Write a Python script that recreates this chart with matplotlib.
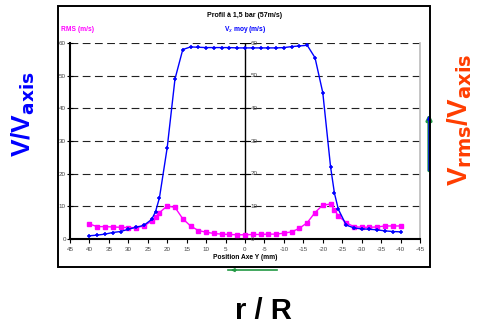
import numpy as np
import matplotlib.pyplot as plt
from matplotlib.patches import Rectangle

# position along Y (mm)
pos = [40, 38, 36, 34, 32, 30, 28, 26, 24, 23, 22, 20, 18, 16, 14, 12, 10, 8, 6, 4, 2, 0,
       -2, -4, -6, -8, -10, -12, -14, -16, -18, -20, -22, -23, -24, -26, -28, -30, -32,
       -34, -36, -38, -40]
v_moy = [1.0, 1.2, 1.5, 2.0, 2.3, 3.0, 3.6, 4.2, 6.0, 8.4, 12.6, 28.0, 49.0, 58.0, 58.8,
         58.7, 58.6, 58.6, 58.6, 58.6, 58.5, 58.5, 58.5, 58.5, 58.5, 58.5, 58.6, 58.9, 59.1,
         59.3, 55.5, 44.8, 22.1, 14.0, 9.1, 4.3, 3.4, 3.1, 3.0, 2.8, 2.5, 2.3, 2.2]
v_rms = [4.6, 3.8, 3.8, 3.7, 3.6, 3.5, 3.5, 4.0, 5.5, 6.6, 8.1, 10.1, 9.7, 6.2, 4.0, 2.6,
         2.1, 1.7, 1.5, 1.4, 1.3, 1.3, 1.4, 1.4, 1.5, 1.5, 1.8, 2.2, 3.3, 5.0, 8.1, 10.4,
         10.7, 8.9, 7.1, 5.0, 3.8, 3.6, 3.6, 3.7, 4.0, 4.0, 4.0]
xticks = list(range(45, -50, -5))
yticks = [0, 10, 20, 30, 40, 50, 60]

plt.rcParams['font.family'] = ['Liberation Sans', 'DejaVu Sans']

fig = plt.figure(figsize=(4.78, 3.27), dpi=100)
# outer frame
fig.patches.append(Rectangle((0.1213, 0.1835), 0.778, 0.798, transform=fig.transFigure,
                             fill=False, edgecolor='black', linewidth=1.4))

ax = fig.add_axes([0.1464, 0.269, 0.7323, 0.5995])
ax.set_xlim(45, -45)
ax.set_ylim(0, 60)

for y in yticks[1:]:
    ax.axhline(y, color='#222222', lw=0.8, dashes=(7, 4), zorder=1)
ax.axvline(0, color='black', lw=1.0, zorder=1)
for y in yticks:
    ax.plot([1.2, -1.2], [y, y], color='black', lw=0.8, zorder=1)
    ax.text(-1.5, y, str(y), fontsize=4.5, color='#444444', va='center', ha='left')

ax.plot(pos, v_rms, color='#ff00ff', lw=1.0, marker='s', ms=2.8, zorder=3)
ax.plot(pos, v_moy, color='#0000ff', lw=1.0, marker='+', ms=3.2, mew=1.1, zorder=4)

ax.set_xticks(xticks)
ax.set_xticklabels([str(t) for t in xticks], fontsize=4.5, color='#444444')
ax.set_yticks(yticks)
ax.set_yticklabels([str(t) for t in yticks], fontsize=4.5, color='#444444')
ax.tick_params(axis='x', direction='out', length=3, width=0.8, pad=3)
ax.tick_params(axis='y', direction='inout', length=4, width=0.8, pad=1)
ax.spines['left'].set_linewidth(1.5)
ax.spines['bottom'].set_linewidth(1.5)
ax.spines['top'].set_visible(False)
ax.spines['right'].set_color('#bbbbbb')
ax.spines['right'].set_linewidth(1.2)
ax.set_xlabel('Position Axe Y (mm)', fontsize=4.8, fontweight='bold', labelpad=1)

fig.text(0.512, 0.948, 'Profil à 1,5 bar (57m/s)', fontsize=5, fontweight='bold', ha='center')
fig.text(0.128, 0.905, 'RMS (m/s)', fontsize=4.8, fontweight='bold', color='#ff00ff')
fig.text(0.512, 0.905, 'V$_x$ moy (m/s)', fontsize=4.8, fontweight='bold', color='#0000ff',
         ha='center')

fig.text(0.048, 0.65, 'V/V$_{\\mathbf{axis}}$', fontsize=19, fontweight='bold', color='#0000ff',
         rotation=90, ha='center', va='center')
fig.text(0.962, 0.635, 'V$_{\\mathbf{rms}}$/V$_{\\mathbf{axis}}$', fontsize=20, fontweight='bold',
         color='#ff3d00', rotation=90, ha='center', va='center')
fig.text(0.552, 0.05, 'r / R', fontsize=21, fontweight='bold', color='black',
         ha='center', va='center')

# arrows
fig.patches.append(plt.Line2D([0.477, 0.58], [0.174, 0.174], transform=fig.transFigure,
                              color='#229944', lw=1.2))
ax.annotate('', xy=(0.477, 0.174), xytext=(0.50, 0.174), xycoords='figure fraction',
            arrowprops=dict(arrowstyle='-|>', color='#229944', lw=1.0, mutation_scale=5))
ax.annotate('', xy=(0.8975, 0.66), xytext=(0.8975, 0.47), xycoords='figure fraction',
            arrowprops=dict(arrowstyle='-|>', color='#229944', lw=2.4, mutation_scale=7))
ax.annotate('', xy=(0.8975, 0.655), xytext=(0.8975, 0.47), xycoords='figure fraction',
            arrowprops=dict(arrowstyle='-|>', color='#0000ff', lw=1.0, mutation_scale=5))

fig.savefig('out.png', dpi=100)
